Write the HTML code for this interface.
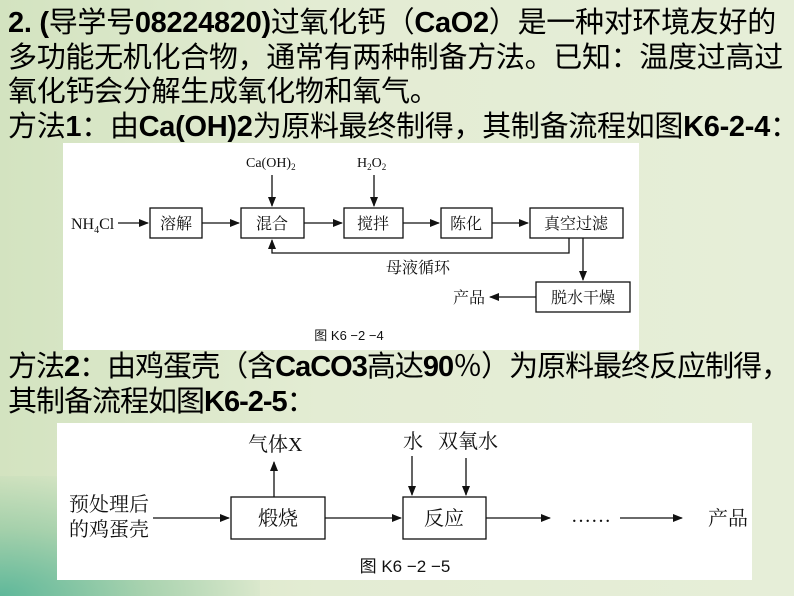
<!DOCTYPE html>
<html><head><meta charset="utf-8"><style>
body{margin:0;width:794px;height:596px;overflow:hidden;position:relative;
background:linear-gradient(90deg,#d3e3c0 0%,#e3ecd3 40%,#e6eed8 100%);
font-family:"Liberation Sans","Noto Sans CJK SC",sans-serif;}
.bl{position:absolute;left:0;bottom:0;width:260px;height:120px;background:radial-gradient(ellipse at 0% 100%,#5fb89a 0%,rgba(120,190,150,.5) 40%,rgba(220,235,210,0) 75%);}
.t{position:absolute;left:8px;font-size:29px;line-height:34px;white-space:nowrap;color:#000;letter-spacing:-0.3px}
.t b{font-weight:bold}
.box{position:absolute;background:#fff}
svg text{font-family:"Liberation Serif","Noto Serif CJK SC",serif;fill:#111}
</style></head><body>
<div class="bl"></div>
<div class="t" style="top:6px"><b>2. (</b>导学号<b>08224820)</b>过氧化钙（<b>CaO2</b>）是一种对环境友好的</div>
<div class="t" style="top:41px">多功能无机化合物，通常有两种制备方法。已知：温度过高过</div>
<div class="t" style="top:75px">氧化钙会分解生成氧化物和氧气。</div>
<div class="t" style="top:110px">方法<b>1</b>：由<b>Ca(OH)2</b>为原料最终制得，其制备流程如图<b>K6-2-4</b>：</div>
<div class="t" style="top:350px;letter-spacing:-1px">方法<b>2</b>：由鸡蛋壳（含<b>CaCO3</b>高达<b>90</b>％）为原料最终反应制得，</div>
<div class="t" style="top:385px;letter-spacing:-1px">其制备流程如图<b>K6-2-5</b>：</div>

<div class="box" style="left:63px;top:143px;width:576px;height:207px"></div>
<div class="box" style="left:57px;top:423px;width:695px;height:157px"></div>

<svg width="794" height="596" style="position:absolute;left:0;top:0">
<defs><marker id="a" markerWidth="10" markerHeight="8" refX="9" refY="4" orient="auto" markerUnits="userSpaceOnUse"><path d="M0,0L10,4L0,8z" fill="#111"/></marker></defs>
<g stroke="#111" stroke-width="1.3" fill="none">
<rect x="150" y="208" width="52" height="30"/>
<rect x="241" y="208" width="63" height="30"/>
<rect x="344" y="208" width="59" height="30"/>
<rect x="441" y="208" width="51" height="30"/>
<rect x="530" y="208" width="93" height="30"/>
<rect x="536" y="282" width="94" height="30"/>
<line x1="118" y1="223" x2="148" y2="223" marker-end="url(#a)"/>
<line x1="202" y1="223" x2="239" y2="223" marker-end="url(#a)"/>
<line x1="304" y1="223" x2="342" y2="223" marker-end="url(#a)"/>
<line x1="403" y1="223" x2="439" y2="223" marker-end="url(#a)"/>
<line x1="492" y1="223" x2="528" y2="223" marker-end="url(#a)"/>
<line x1="272" y1="175" x2="272" y2="206" marker-end="url(#a)"/>
<line x1="374" y1="175" x2="374" y2="206" marker-end="url(#a)"/>
<polyline points="569,238 569,253 272,253 272,240" marker-end="url(#a)"/>
<line x1="583" y1="238" x2="583" y2="280" marker-end="url(#a)"/>
<line x1="536" y1="297" x2="490" y2="297" marker-end="url(#a)"/>
<rect x="231" y="497" width="94" height="42"/>
<rect x="403" y="497" width="83" height="42"/>
<line x1="153" y1="518" x2="229" y2="518" marker-end="url(#a)"/>
<line x1="325" y1="518" x2="401" y2="518" marker-end="url(#a)"/>
<line x1="274" y1="497" x2="274" y2="462" marker-end="url(#a)"/>
<line x1="412" y1="456" x2="412" y2="495" marker-end="url(#a)"/>
<line x1="466" y1="458" x2="466" y2="495" marker-end="url(#a)"/>
<line x1="486" y1="518" x2="550" y2="518" marker-end="url(#a)"/>
<line x1="620" y1="518" x2="682" y2="518" marker-end="url(#a)"/>
</g>
<g font-size="16">
<text x="71" y="229">NH<tspan font-size="10" dy="4">4</tspan><tspan dy="-4">Cl</tspan></text>
<text x="176" y="229" text-anchor="middle">溶解</text>
<text x="272" y="229" text-anchor="middle">混合</text>
<text x="373" y="229" text-anchor="middle">搅拌</text>
<text x="466" y="229" text-anchor="middle">陈化</text>
<text x="576" y="229" text-anchor="middle">真空过滤</text>
<text x="583" y="303" text-anchor="middle">脱水干燥</text>
<text x="453" y="303">产品</text>
<text x="418" y="273" text-anchor="middle">母液循环</text>
<text x="246" y="167" font-size="14">Ca(OH)<tspan font-size="9" dy="3">2</tspan></text>
<text x="357" y="167" font-size="14">H<tspan font-size="9" dy="3">2</tspan><tspan dy="-3">O</tspan><tspan font-size="9" dy="3">2</tspan></text>
<text x="349" y="340" font-size="13" text-anchor="middle" style="font-family:'Liberation Sans','Noto Sans CJK SC',sans-serif">图 K6 −2 −4</text>
</g>
<g font-size="20">
<text x="69" y="511">预处理后</text>
<text x="69" y="536">的鸡蛋壳</text>
<text x="278" y="525" text-anchor="middle">煅烧</text>
<text x="444" y="525" text-anchor="middle">反应</text>
<text x="248" y="451">气体X</text>
<text x="403" y="448">水</text>
<text x="438" y="448">双氧水</text>
<text x="571" y="522">……</text>
<text x="708" y="525">产品</text>
<text x="405" y="572" font-size="17" text-anchor="middle" style="font-family:'Liberation Sans','Noto Sans CJK SC',sans-serif">图 K6 −2 −5</text>
</g>
</svg>
</body></html>
